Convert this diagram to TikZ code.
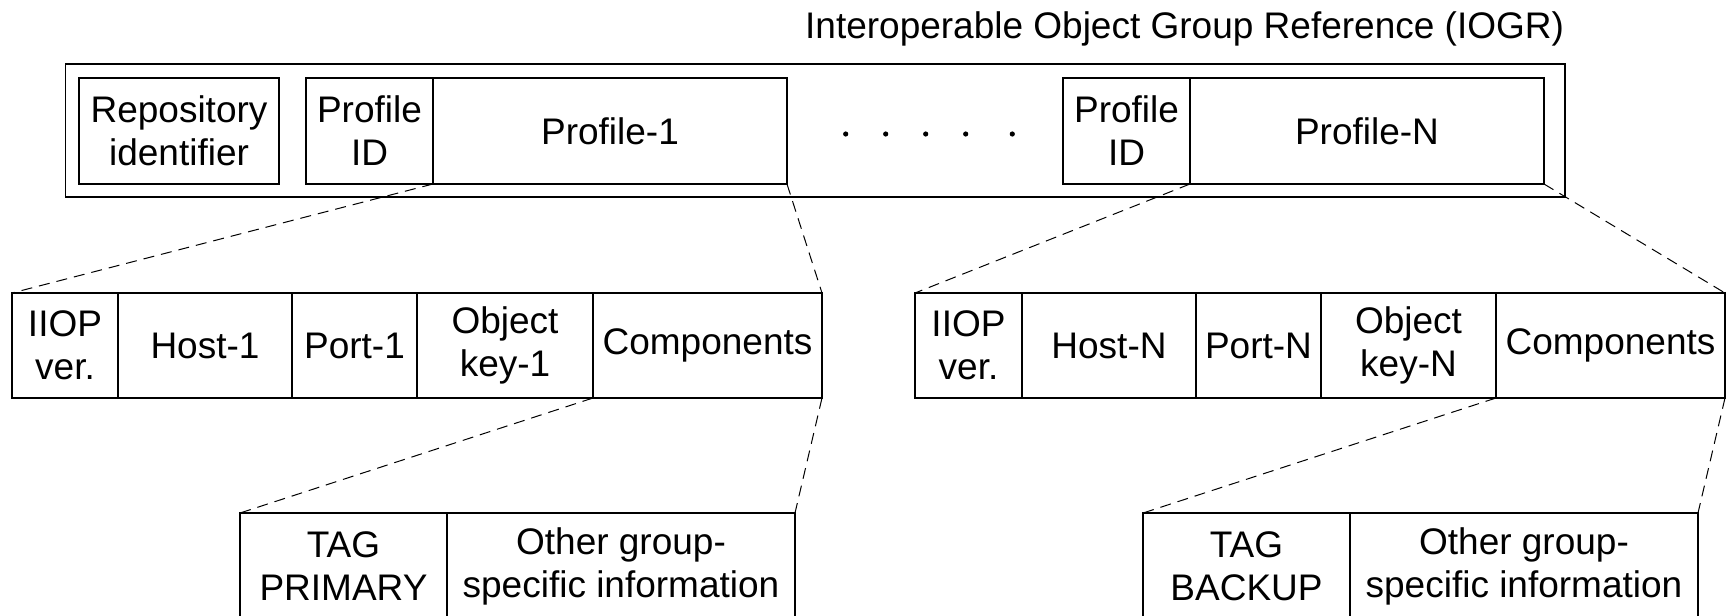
\documentclass[tikz,border=0pt]{standalone}
\usepackage{fontspec}
\setmainfont{Liberation Sans}
\begin{document}
\begin{tikzpicture}[x=0.5pt, y=-0.5pt,
  every node/.style={font=\fontsize{18.5}{21.5}\selectfont, inner sep=0pt, outer sep=0pt},
  cell/.style={draw, line width=0.7pt, rectangle, align=center, anchor=north west},
  rowone/.style={cell, minimum height=53pt},
  rowtwo/.style={cell, minimum height=52.5pt},
  rowthree/.style={cell, minimum height=53.5pt},
  link/.style={draw, line width=0.5pt, dash pattern=on 5.5pt off 3.5pt}]
\useasboundingbox (0,0) rectangle (1726,616);
\clip (0,0) rectangle (1726,616);

% title and outer frame of the reference
\node[anchor=base east] (title) at (1564,38) {Interoperable Object Group Reference (IOGR)};
\node[cell, minimum width=749.75pt, minimum height=66.5pt] (iogr) at (65.5,64) {};

% top-level fields
\node[rowone, minimum width=100pt] (repo) at (79,78) {Repository\\identifier};
\node[rowone, minimum width=63.5pt] (pidA) at (306,78) {Profile\\ID};
\node[rowone, minimum width=177pt] (profA) at (pidA.north east) {Profile-1};
\node[rowone, minimum width=63.5pt] (pidB) at (1063,78) {Profile\\ID};
\node[rowone, minimum width=177pt] (profB) at (pidB.north east) {Profile-N};

% ellipsis between the profiles
\foreach \px in {845.7,885.7,925.7,965.7,1012.3}
  \fill (\px,134) circle[radius=1.3pt];

% IIOP profile bodies
\node[rowtwo, minimum width=53pt] (iiopA) at (12,293) {IIOP\\ver.};
\node[rowtwo, minimum width=87pt] (hostA) at (iiopA.north east) {Host-1};
\node[rowtwo, minimum width=62.5pt] (portA) at (hostA.north east) {Port-1};
\node[rowtwo, minimum width=88pt] (keyA) at (portA.north east) {Object\\key-1};
\node[rowtwo, minimum width=114.5pt] (compA) at (keyA.north east) {Components};

\node[rowtwo, minimum width=53.5pt] (iiopB) at (915,293) {IIOP\\ver.};
\node[rowtwo, minimum width=87pt] (hostB) at (iiopB.north east) {Host-N};
\node[rowtwo, minimum width=62.5pt] (portB) at (hostB.north east) {Port-N};
\node[rowtwo, minimum width=87.5pt] (keyB) at (portB.north east) {Object\\key-N};
\node[rowtwo, minimum width=114.5pt] (compB) at (keyB.north east) {Components};

% group components
\node[rowthree, minimum width=103.5pt] (tagA) at (240,513) {TAG\\PRIMARY};
\node[rowthree, minimum width=174pt] (infoA) at (tagA.north east) {Other group-\\specific information};
\node[rowthree, minimum width=103.5pt] (tagB) at (1143,513) {TAG\\BACKUP};
\node[rowthree, minimum width=174pt] (infoB) at (tagB.north east) {Other group-\\specific information};

% expansion lines
\path[link] (pidA.south east) -- (iiopA.north west);
\path[link] (profA.south east) -- (compA.north east);
\path[link] (pidB.south east) -- (iiopB.north west);
\path[link] (profB.south east) -- (compB.north east);
\path[link] (keyA.south east) -- (tagA.north west);
\path[link] (compA.south east) -- (infoA.north east);
\path[link] (keyB.south east) -- (tagB.north west);
\path[link] (compB.south east) -- (infoB.north east);
\end{tikzpicture}
\end{document}
